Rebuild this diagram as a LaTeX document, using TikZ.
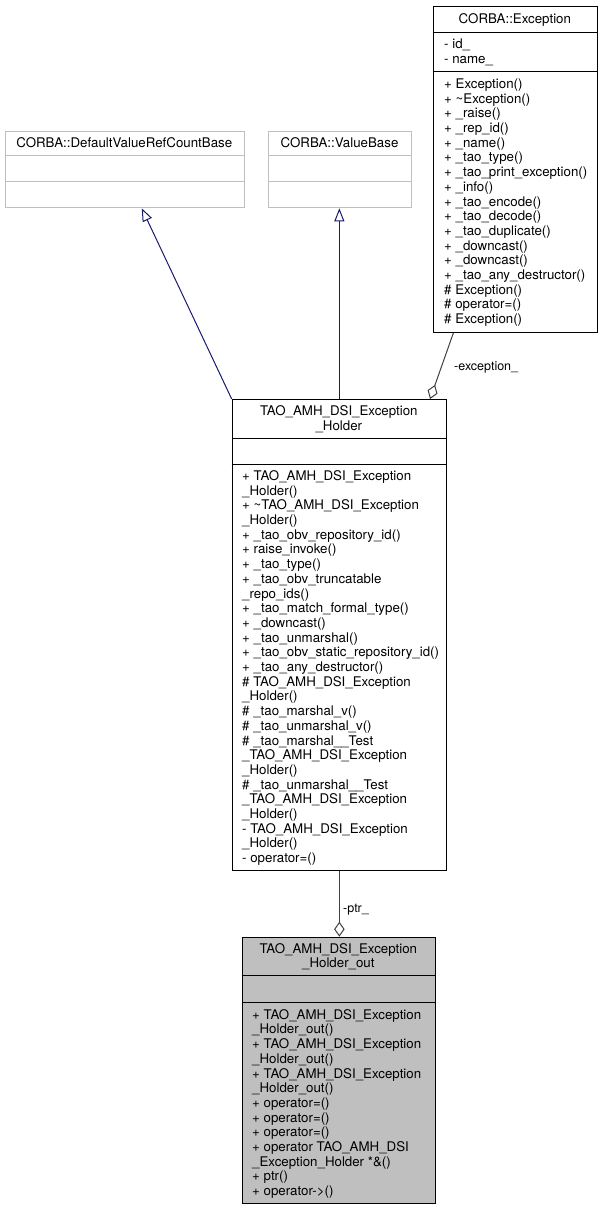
\documentclass[tikz,border=0pt]{standalone}
\usepackage{fontspec}
\setmainfont{TeX Gyre Heros}
\usetikzlibrary{arrows.meta,calc}
\definecolor{navyedge}{HTML}{191970}
\definecolor{grayedge}{HTML}{404040}
\definecolor{grayfill}{HTML}{BFBFBF}
\definecolor{grayline}{HTML}{BFBFBF}
\newcommand\umlfont{\fontsize{13.3}{14.7}\selectfont}
\newcommand\umlLines[4]{%
  \foreach \t [count=\i from 0] in {#4} {%
    \node[txt, anchor=base west] (#1\i) at (#2, -#3-\i*14.7) {\t};}}
\begin{document}
\begin{tikzpicture}[x=1pt,y=1pt,
  txt/.style={inner sep=0pt, font=\umlfont},
  lbl/.style={inner sep=0pt, font=\fontsize{12.5}{14}\selectfont},
  classbox/.style={draw, line width=1pt, inner sep=0pt, anchor=north west},
  graybox/.style={classbox, draw=grayline},
  sepline/.style={line width=1pt},
  graysep/.style={line width=1pt, draw=grayline},
  inherit/.style={draw=navyedge, line width=1pt, -{Triangle[open, length=13pt, width=10pt]}},
  assoc/.style={draw=grayedge, line width=1pt, -{Diamond[open, length=15pt, width=10.5pt]}}]
\useasboundingbox (0,0) rectangle (601,-1211);

% CORBA::DefaultValueRefCountBase
\node[graybox, minimum width=239.5pt, minimum height=76.6pt] (dv) at (4.5,-130.7) {};
\draw[graysep] (4.5,-155.7) -- (244,-155.7);
\draw[graysep] (4.5,-181.7) -- (244,-181.7);
\node[txt, anchor=base] (dvt) at (124.25,-147.7) {CORBA::DefaultValueRefCountBase};

% CORBA::ValueBase
\node[graybox, minimum width=143pt, minimum height=76.6pt] (vb) at (268,-130.7) {};
\draw[graysep] (268,-155.7) -- (411,-155.7);
\draw[graysep] (268,-181.7) -- (411,-181.7);
\node[txt, anchor=base] (vbt) at (339.5,-147.7) {CORBA::ValueBase};

% CORBA::Exception
\node[classbox, minimum width=164.3pt, minimum height=326pt] (exc) at (432.7,-6) {};
\draw[sepline] (432.7,-32.3) -- (597,-32.3);
\draw[sepline] (432.7,-71) -- (597,-71);
\node[txt, anchor=base] (exct) at (514.85,-23.7) {CORBA::Exception};
\umlLines{exca}{444}{48.8}{- id\_,- name\_}
\umlLines{excm}{444}{88.4}{+ Exception(),+ \textasciitilde Exception(),+ \_raise(),+ \_rep\_id(),+ \_name(),+ \_tao\_type(),+ \_tao\_print\_exception(),+ \_info(),+ \_tao\_encode(),+ \_tao\_decode(),+ \_tao\_duplicate(),+ \_downcast(),+ \_downcast(),+ \_tao\_any\_destructor(),\# Exception(),\# operator=(),\# Exception()}

% TAO_AMH_DSI_Exception_Holder
\node[classbox, minimum width=214.3pt, minimum height=471pt] (holder) at (231.7,-399) {};
\draw[sepline] (231.7,-438) -- (446,-438);
\draw[sepline] (231.7,-464) -- (446,-464);
\node[txt, anchor=base] (holdert1) at (338.85,-415.6) {TAO\_AMH\_DSI\_Exception};
\node[txt, anchor=base] (holdert2) at (338.85,-430.3) {\_Holder};
\umlLines{holderm}{242}{480.4}{+ TAO\_AMH\_DSI\_Exception,\_Holder(),+ \textasciitilde TAO\_AMH\_DSI\_Exception,\_Holder(),+ \_tao\_obv\_repository\_id(),+ raise\_invoke(),+ \_tao\_type(),+ \_tao\_obv\_truncatable,\_repo\_ids(),+ \_tao\_match\_formal\_type(),+ \_downcast(),+ \_tao\_unmarshal(),+ \_tao\_obv\_static\_repository\_id(),+ \_tao\_any\_destructor(),\# TAO\_AMH\_DSI\_Exception,\_Holder(),\# \_tao\_marshal\_v(),\# \_tao\_unmarshal\_v(),\# \_tao\_marshal\_\_Test,\_TAO\_AMH\_DSI\_Exception,\_Holder(),\# \_tao\_unmarshal\_\_Test,\_TAO\_AMH\_DSI\_Exception,\_Holder(),- TAO\_AMH\_DSI\_Exception,\_Holder(),- operator=()}

% TAO_AMH_DSI_Exception_Holder_out
\node[classbox, fill=grayfill, minimum width=193.3pt, minimum height=266.3pt] (out) at (241.7,-936.7) {};
\draw[sepline] (241.7,-975) -- (435,-975);
\draw[sepline] (241.7,-1002.7) -- (435,-1002.7);
\node[txt, anchor=base] (outt1) at (338.35,-953) {TAO\_AMH\_DSI\_Exception};
\node[txt, anchor=base] (outt2) at (338.35,-967.7) {\_Holder\_out};
\umlLines{outm}{252}{1019.2}{+ TAO\_AMH\_DSI\_Exception,\_Holder\_out(),+ TAO\_AMH\_DSI\_Exception,\_Holder\_out(),+ TAO\_AMH\_DSI\_Exception,\_Holder\_out(),+ operator=(),+ operator=(),+ operator=(),+ operator TAO\_AMH\_DSI,\_Exception\_Holder *\&(),+ ptr(),+ operator->()}

% connectors
\draw[inherit] (holder.north west) -- ([xshift=17pt]dv.south);
\draw[inherit] (holder.north) -- (holder.north |- vb.south);
\draw[assoc] ([xshift=-62pt]exc.south) -- ([xshift=90.7pt]holder.north);
\node[lbl, anchor=base west] (excl) at (454,-370) {-exception\_};
\draw[assoc] (holder.south) -- (holder.south |- out.north);
\node[lbl, anchor=base west] (ptrl) at (343,-912) {-ptr\_};
\end{tikzpicture}
\end{document}
